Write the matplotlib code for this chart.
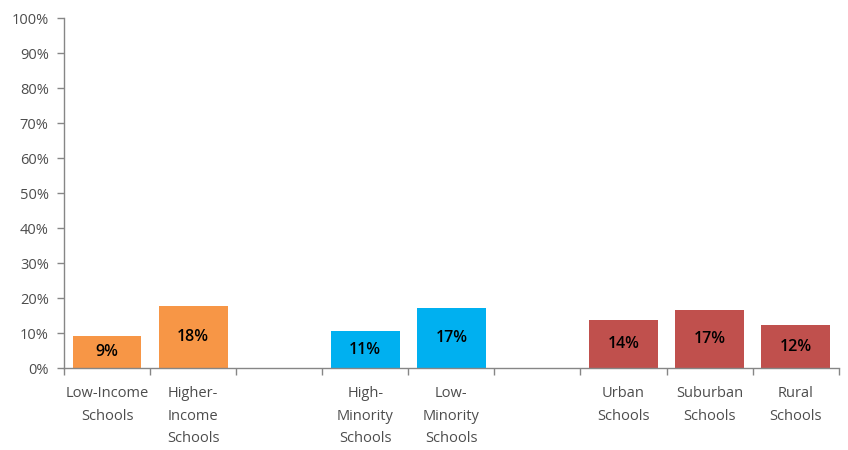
import matplotlib
matplotlib.use("Agg")
import matplotlib.pyplot as plt
import numpy as np

categories = ["Low-Income\nSchools", "Higher-\nIncome\nSchools", "",
              "High-\nMinority\nSchools", "Low-\nMinority\nSchools", "",
              "Urban\nSchools", "Suburban\nSchools", "Rural\nSchools"]
values = [9.2, 17.9, None, 10.7, 17.2, None, 13.7, 16.7, 12.3]
labels = ["9%", "18%", "", "11%", "17%", "", "14%", "17%", "12%"]
colors = ["#F79646", "#F79646", None, "#00B0F0", "#00B0F0", None,
          "#C0504D", "#C0504D", "#C0504D"]
yticks = list(range(0, 101, 10))

plt.rcParams['font.family'] = ['Open Sans', 'DejaVu Sans']

fig = plt.figure(figsize=(8.48, 4.5), dpi=100)
ax = fig.add_axes([0.0755, 0.1816, 0.9135, 0.7774])

x = np.arange(len(categories))
for xi, v, c, lab in zip(x, values, colors, labels):
    if v is None:
        continue
    ax.bar(xi, v, width=0.8, color=c, zorder=2)
    ax.text(xi, v / 2, lab, ha='center', va='center', fontsize=11.5,
            fontweight='semibold', color='black')

ax.set_xlim(-0.5, len(categories) - 0.5)
ax.set_ylim(0, 100)
ax.set_yticks(yticks)
ax.set_yticklabels([f"{t}%" for t in yticks])

ax.set_xticks(x)
ax.set_xticklabels(categories, linespacing=1.68, va='top')
ax.set_xticks(np.arange(-0.5, len(categories), 1.0), minor=True)
ax.tick_params(axis='x', which='major', length=0, pad=13, labelsize=10.5, labelcolor='#4d4d4d')
ax.tick_params(axis='x', which='minor', length=5, width=1, color='#868686', direction='out')
ax.tick_params(axis='y', length=5, width=1, color='#868686', pad=6, labelsize=10.5, labelcolor='#4d4d4d')

for s in ['top', 'right']:
    ax.spines[s].set_visible(False)
for s in ['left', 'bottom']:
    ax.spines[s].set_color('#868686')
    ax.spines[s].set_linewidth(1)

fig.savefig("out.png", dpi=100)
